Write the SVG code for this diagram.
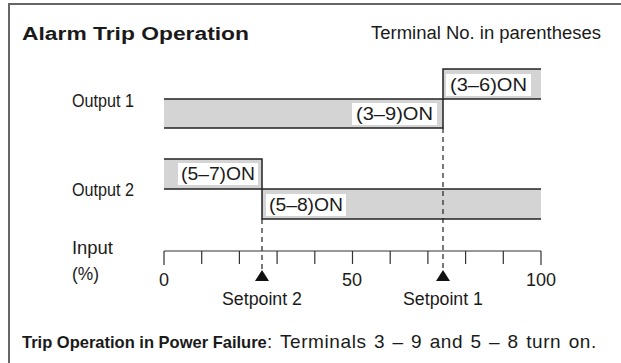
<svg xmlns="http://www.w3.org/2000/svg" width="621" height="363" viewBox="0 0 621 363">
<style>
text{font-family:"Liberation Sans",Arial,sans-serif;fill:#1a1a1a;font-size:18px}
.b{font-weight:bold}
.band{fill:#d4d4d4;stroke:none}
.ln{stroke:#222;stroke-width:1.5;fill:none}
.dash{stroke:#222;stroke-width:1.2;stroke-dasharray:5,4;fill:none}
.lab{fill:#fff}
.tick{stroke:#333;stroke-width:1.2}
</style>
<rect width="621" height="363" fill="#fff"/>
<path d="M9,363 V4 H621" fill="none" stroke="#666" stroke-width="2"/>
<g id="title">
<text x="22" y="40" class="b" font-size="22" textLength="227" lengthAdjust="spacingAndGlyphs">Alarm Trip Operation</text>
<text x="371" y="39" textLength="230" lengthAdjust="spacingAndGlyphs">Terminal No. in parentheses</text>
</g>
<g id="output1">
<text x="72" y="107" textLength="62" lengthAdjust="spacingAndGlyphs">Output 1</text>
<rect class="band" x="164" y="99" width="279" height="29"/>
<rect class="band" x="443" y="69" width="98" height="30"/>
<path class="ln" d="M164,99 H443 M164,128 H443 V69 H541 M443,99 H541"/>
<rect class="lab" x="352" y="103" width="85" height="22"/>
<text x="356" y="120" textLength="77" lengthAdjust="spacingAndGlyphs">(3–9)ON</text>
<rect class="lab" x="446" y="74" width="85" height="22"/>
<text x="450" y="91" textLength="77" lengthAdjust="spacingAndGlyphs">(3–6)ON</text>
</g>
<g id="output2">
<text x="72" y="196" textLength="62" lengthAdjust="spacingAndGlyphs">Output 2</text>
<rect class="band" x="164" y="159" width="98" height="30"/>
<rect class="band" x="262" y="189" width="279" height="30"/>
<path class="ln" d="M164,159 H262 V219 H541 M164,189 H541"/>
<rect class="lab" x="178" y="163" width="80" height="22"/>
<text x="181" y="180" textLength="74" lengthAdjust="spacingAndGlyphs">(5–7)ON</text>
<rect class="lab" x="266" y="194" width="80" height="22"/>
<text x="269" y="211" textLength="74" lengthAdjust="spacingAndGlyphs">(5–8)ON</text>
</g>
<g id="connectors">
<path class="dash" d="M443,128 V272"/>
<path class="dash" d="M262,219 V272"/>
</g>
<g id="axis">
<text x="72" y="254" textLength="41" lengthAdjust="spacingAndGlyphs">Input</text>
<text x="72" y="280" textLength="27" lengthAdjust="spacingAndGlyphs">(%)</text>
<path class="tick" d="M164,251 H541 M164,251 V265 M201.7,251 V264 M239.4,251 V264 M277.1,251 V264 M314.8,251 V264 M352.5,251 V264 M390.2,251 V264 M427.9,251 V264 M465.6,251 V264 M503.3,251 V264 M541,251 V265"/>
<text x="164" y="286" text-anchor="middle">0</text>
<text x="352" y="286" text-anchor="middle">50</text>
<text x="541" y="286" text-anchor="middle">100</text>
</g>
<g id="setpoint2">
<polygon points="262,270 269,281 255,281" fill="#111"/>
<text x="262" y="305" text-anchor="middle" textLength="80" lengthAdjust="spacingAndGlyphs">Setpoint 2</text>
</g>
<g id="setpoint1">
<polygon points="443,270 450,281 436,281" fill="#111"/>
<text x="443" y="305" text-anchor="middle" textLength="80" lengthAdjust="spacingAndGlyphs">Setpoint 1</text>
</g>
<g id="footer">
<text x="22" y="348"><tspan class="b" font-size="16.5">Trip Operation in Power Failure</tspan><tspan x="267" font-size="19" letter-spacing="0.6" word-spacing="1.5">: Terminals 3 – 9 and 5 – 8 turn on.</tspan></text>
</g>
</svg>
